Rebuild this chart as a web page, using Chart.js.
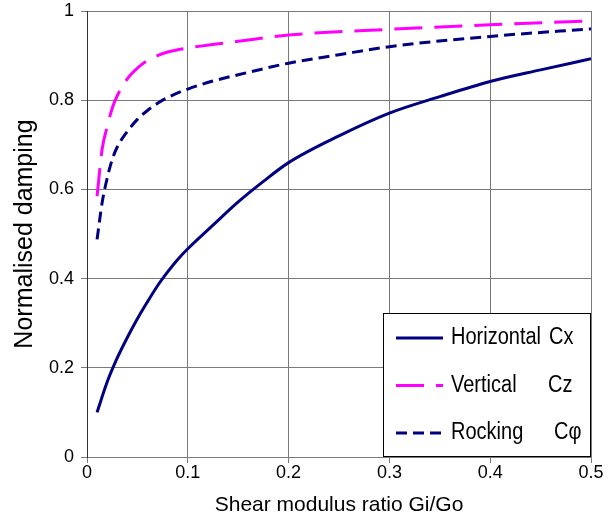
<!DOCTYPE html>
<html>
<head>
<meta charset="utf-8">
<script src="https://cdn.jsdelivr.net/npm/chart.js@4/dist/chart.umd.min.js"></script>
<style>
  html, body { margin: 0; padding: 0; background: #fff; }
  #wrap { width: 612px; height: 521px; }
</style>
</head>
<body>
<div id="wrap"><canvas id="chart" width="612" height="521"></canvas></div>
<script>
// values
const horizX = [0.01, 0.02, 0.03, 0.04, 0.05, 0.06, 0.07, 0.08, 0.09, 0.1, 0.125, 0.15, 0.175, 0.2, 0.25, 0.3, 0.35, 0.4, 0.45, 0.5];
const horizY = [0.10, 0.168, 0.222, 0.268, 0.31, 0.348, 0.384, 0.415, 0.443, 0.467, 0.52, 0.572, 0.618, 0.66, 0.72, 0.771, 0.808, 0.842, 0.868, 0.893];

const vertX = [0.01, 0.015, 0.02, 0.025, 0.03, 0.04, 0.05, 0.06, 0.07, 0.08, 0.1, 0.15, 0.2, 0.3, 0.4, 0.5];
const vertY = [0.585, 0.69, 0.74, 0.782, 0.81, 0.848, 0.872, 0.889, 0.90, 0.908, 0.917, 0.932, 0.946, 0.959, 0.969, 0.978];

const rockX = [0.01, 0.015, 0.02, 0.025, 0.03, 0.04, 0.05, 0.06, 0.07, 0.08, 0.1, 0.125, 0.15, 0.2, 0.25, 0.3, 0.4, 0.5];
const rockY = [0.488, 0.57, 0.625, 0.667, 0.695, 0.73, 0.757, 0.777, 0.793, 0.806, 0.825, 0.843, 0.857, 0.883, 0.902, 0.92, 0.943, 0.96];

const seriesNames = ["Horizontal", "Vertical", "Rocking"];
const seriesSymbols = ["Cx", "Cz", "C\u03c6"];
const xTickLabels = ["0", "0.1", "0.2", "0.3", "0.4", "0.5"];
const yTickLabels = ["0", "0.2", "0.4", "0.6", "0.8", "1"];

const FONT = "'Liberation Sans', Arial, sans-serif";
const GRID = "#7a7a7a";

function pts(xs, ys) {
  return xs.map((x, i) => ({ x, y: ys[i] }));
}

// legend box drawn inside the plot area, bottom right
const boxLegend = {
  id: "boxLegend",
  afterDraw(chart) {
    const { ctx, chartArea } = chart;
    const w = 208, h = 144;
    const left = chartArea.right - w, top = chartArea.bottom - h;
    ctx.save();
    ctx.fillStyle = "#fff";
    ctx.fillRect(left, top, w, h);
    ctx.strokeStyle = "#000";
    ctx.lineWidth = 1;
    ctx.strokeRect(left + 0.5, top + 0.5, w - 1, h - 1);
    const symX = [166, 165, 171];
    chart.data.datasets.forEach((ds, i) => {
      const y = top + 25 + i * 47.5;
      ctx.beginPath();
      ctx.strokeStyle = ds.borderColor;
      ctx.lineWidth = ds.borderWidth;
      ctx.setLineDash(ds.borderDash || []);
      ctx.moveTo(left + 13, y);
      ctx.lineTo(left + 60, y);
      ctx.stroke();
      ctx.setLineDash([]);
      // text in the reference is a bit taller than it is wide
      ctx.save();
      ctx.translate(0, y);
      ctx.scale(1, 1.15);
      ctx.font = "20px " + FONT;
      ctx.textBaseline = "middle";
      ctx.fillStyle = "#000";
      ctx.fillText(seriesNames[i], left + 68, 0);
      ctx.fillText(seriesSymbols[i], left + symX[i], 0);
      ctx.restore();
    });
    ctx.restore();
  }
};

new Chart(document.getElementById("chart"), {
  type: "scatter",
  data: {
    datasets: [
      { label: seriesNames[0], data: pts(horizX, horizY), borderColor: "#000080", borderWidth: 3, borderDash: [] },
      { label: seriesNames[1], data: pts(vertX, vertY), borderColor: "#ff00ff", borderWidth: 3, borderDash: [28, 12] },
      { label: seriesNames[2], data: pts(rockX, rockY), borderColor: "#000080", borderWidth: 3, borderDash: [11, 6] }
    ].map(d => Object.assign(d, { showLine: true, pointRadius: 0, fill: false, tension: 0.4, cubicInterpolationMode: "monotone" }))
  },
  options: {
    responsive: false,
    animation: false,
    layout: { padding: { top: 11, right: 21, left: 0, bottom: 0 } },
    plugins: { legend: { display: false }, tooltip: { enabled: false } },
    scales: {
      x: {
        type: "linear", min: 0, max: 0.5,
        afterFit(s) { s.height = 64; s.paddingLeft = 0; s.paddingRight = 0; },
        grid: { color: GRID, tickColor: GRID, tickLength: 6, lineWidth: 1 },
        border: { color: GRID },
        ticks: { stepSize: 0.1, padding: -1, color: "#000", font: { family: FONT, size: 18 },
          callback: (v, i) => xTickLabels[i] },
        title: { display: true, text: "Shear modulus ratio Gi/Go", color: "#000",
          font: { family: FONT, size: 21 }, padding: { top: 0, bottom: 3 } }
      },
      y: {
        type: "linear", min: 0, max: 1,
        afterFit(s) { s.width = 87; s.paddingTop = 0; s.paddingBottom = 0; },
        grid: { color: GRID, tickColor: GRID, tickLength: 6, lineWidth: 1 },
        border: { color: "#333" },
        ticks: { stepSize: 0.2, padding: 7, color: "#000", font: { family: FONT, size: 18 },
          callback: (v, i) => yTickLabels[i] },
        title: { display: true, text: "Normalised damping", color: "#000",
          font: { family: FONT, size: 25 }, padding: { top: 10, bottom: 0 } }
      }
    }
  },
  plugins: [boxLegend]
});
</script>
</body>
</html>
